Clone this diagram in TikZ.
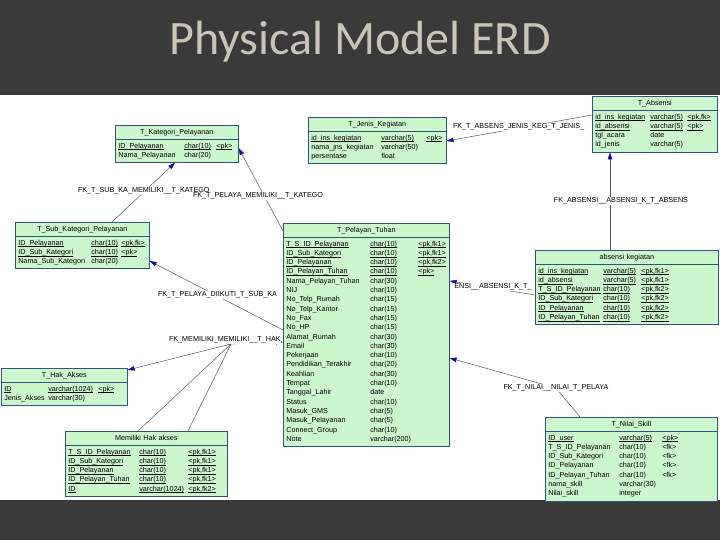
\documentclass[tikz,border=0pt]{standalone}
\usepackage{fontspec}
\setmainfont{Liberation Sans}
\newfontfamily\titlefont{Carlito}
\usepackage{array}
\usetikzlibrary{shapes.multipart,arrows.meta}
\pgfdeclarelayer{background}
\pgfsetlayers{background,main}
\definecolor{tabfill}{RGB}{204,247,204}
\definecolor{tabline}{RGB}{46,86,120}
\definecolor{fkline}{RGB}{80,88,110}
\definecolor{fkarrow}{RGB}{16,16,160}
\definecolor{band}{RGB}{58,58,58}
\definecolor{titlegray}{RGB}{200,196,184}
\setlength{\tabcolsep}{0pt}
\newcommand{\ukey}[1]{\underline{\smash{#1}}}

\begin{document}
\begin{tikzpicture}[x=1pt,y=-1pt,
  tab/.style={rectangle split, rectangle split parts=2, draw=tabline, fill=tabfill,
    line width=0.6pt, inner xsep=3pt, inner ysep=2pt, anchor=north west,
    align=center, font=\fontsize{7.2}{9.3}\selectfont},
  fk/.style={draw=fkline, line width=0.5pt,
    -{Triangle[length=7pt,width=4.5pt,color=fkarrow]}},
  fkname/.style={fill=white, inner sep=0.8pt, font=\fontsize{7.2}{8}\selectfont}]
\useasboundingbox (0,0) rectangle (720,540);

\node[font=\titlefont\fontsize{48}{50}\selectfont, text=titlegray, anchor=base] (T) at (360,55) {Physical Model ERD};

% tables
\node[tab, text width=117pt] (Kat) at (115,125) {\strut T\_Kategori\_Pelayanan
\nodepart{two}\begin{tabular}{@{}p{66pt}p{32pt}p{19pt}@{}}
\ukey{ID\_Pelayanan} & \ukey{char(10)} & \ukey{<pk>}\\
Nama\_Pelayanan & char(20) &
\end{tabular}};

\node[tab, text width=132pt] (Jen) at (308,117) {\strut T\_Jenis\_Kegiatan
\nodepart{two}\begin{tabular}{@{}p{70pt}p{45pt}p{17pt}@{}}
\ukey{id\_ins\_kegiatan} & \ukey{varchar(5)} & \ukey{<pk>}\\
nama\_jns\_kegiatan & varchar(50) & \\
persentase & float &
\end{tabular}};

\node[tab, text width=119pt] (Abs) at (592,96) {\strut T\_Absensi
\nodepart{two}\begin{tabular}{@{}p{55pt}p{37pt}p{27pt}@{}}
\ukey{id\_ins\_kegiatan} & \ukey{varchar(5)} & \ukey{<pk,fk>}\\
\ukey{id\_absensi} & \ukey{varchar(5)} & \ukey{<pk>}\\
tgl\_acara & date & \\
id\_jenis & varchar(5) &
\end{tabular}};

\node[tab, text width=128pt] (Sub) at (15,222) {\strut T\_Sub\_Kategori\_Pelayanan
\nodepart{two}\begin{tabular}{@{}p{73pt}p{30pt}p{25pt}@{}}
\ukey{ID\_Pelayanan} & \ukey{char(10)} & \ukey{<pk,fk>}\\
\ukey{ID\_Sub\_Kategori} & \ukey{char(10)} & \ukey{<pk>}\\
Nama\_Sub\_Kategori & char(20) &
\end{tabular}};

\node[tab, text width=160pt] (Pel) at (283,223) {\strut T\_Pelayan\_Tuhan
\nodepart{two}\begin{tabular}{@{}p{84pt}p{48pt}p{28pt}@{}}
\ukey{T\_S\_ID\_Pelayanan} & \ukey{char(10)} & \ukey{<pk,fk1>}\\
\ukey{ID\_Sub\_Kategori} & \ukey{char(10)} & \ukey{<pk,fk1>}\\
\ukey{ID\_Pelayanan} & \ukey{char(10)} & \ukey{<pk,fk2>}\\
\ukey{ID\_Pelayan\_Tuhan} & \ukey{char(10)} & \ukey{<pk>}\\
Nama\_Pelayan\_Tuhan & char(30) & \\
NIJ & char(10) & \\
No\_Telp\_Rumah & char(15) & \\
No\_Telp\_Kantor & char(15) & \\
No\_Fax & char(15) & \\
No\_HP & char(15) & \\
Alamat\_Rumah & char(30) & \\
Email & char(30) & \\
Pekerjaan & char(10) & \\
Pendidikan\_Terakhir & char(20) & \\
Keahlian & char(30) & \\
Tempat & char(10) & \\
Tanggal\_Lahir & date & \\
Status & char(10) & \\
Masuk\_GMS & char(5) & \\
Masuk\_Pelayanan & char(5) & \\
Connect\_Group & char(10) & \\
Note & varchar(200) &
\end{tabular}};

\node[tab, text width=177pt] (AbsK) at (535,250) {\strut absensi kegiatan
\nodepart{two}\begin{tabular}{@{}p{65pt}p{38pt}p{74pt}@{}}
\ukey{id\_ins\_kegiatan} & \ukey{varchar(5)} & \ukey{<pk,fk1>}\\
\ukey{id\_absensi} & \ukey{varchar(5)} & \ukey{<pk,fk1>}\\
\ukey{T\_S\_ID\_Pelayanan} & \ukey{char(10)} & \ukey{<pk,fk2>}\\
\ukey{ID\_Sub\_Kategori} & \ukey{char(10)} & \ukey{<pk,fk2>}\\
\ukey{ID\_Pelayanan} & \ukey{char(10)} & \ukey{<pk,fk2>}\\
\ukey{ID\_Pelayan\_Tuhan} & \ukey{char(10)} & \ukey{<pk,fk2>}
\end{tabular}};

\node[tab, text width=120pt] (Hak) at (1,368) {\strut T\_Hak\_Akses
\nodepart{two}\begin{tabular}{@{}p{44pt}p{50pt}p{26pt}@{}}
\ukey{ID} & \ukey{varchar(1024)} & \ukey{<pk>}\\
Jenis\_Akses & varchar(30) &
\end{tabular}};

\node[tab, text width=156pt] (Mem) at (65,431) {\strut Memiliki Hak akses
\nodepart{two}\begin{tabular}{@{}p{71pt}p{49pt}p{36pt}@{}}
\ukey{T\_S\_ID\_Pelayanan} & \ukey{char(10)} & \ukey{<pk,fk1>}\\
\ukey{ID\_Sub\_Kategori} & \ukey{char(10)} & \ukey{<pk,fk1>}\\
\ukey{ID\_Pelayanan} & \ukey{char(10)} & \ukey{<pk,fk1>}\\
\ukey{ID\_Pelayan\_Tuhan} & \ukey{char(10)} & \ukey{<pk,fk1>}\\
\ukey{ID} & \ukey{varchar(1024)} & \ukey{<pk,fk2>}
\end{tabular}};

\node[tab, text width=166pt] (Nil) at (545,417) {\strut T\_Nilai\_Skill
\nodepart{two}\begin{tabular}{@{}p{71pt}p{43pt}p{52pt}@{}}
\ukey{ID\_user} & \ukey{varchar(5)} & \ukey{<pk>}\\
T\_S\_ID\_Pelayanan & char(10) & <fk>\\
ID\_Sub\_Kategori & char(10) & <fk>\\
ID\_Pelayanan & char(10) & <fk>\\
ID\_Pelayan\_Tuhan & char(10) & <fk>\\
nama\_skill & varchar(30) & \\
Nilai\_skill & integer &
\end{tabular}};

\begin{pgfonlayer}{background}
\fill[band] (0,0) rectangle (720,95);
\fill[white] (0,95) rectangle (720,500);
\fill[band] (0,500) rectangle (720,540);

% references
\draw[fk] ([yshift=-19pt]Abs.north west) -- ([yshift=-24pt]Jen.north east);
\draw[fk] ([xshift=97pt]Sub.north west) -- ([xshift=60pt]Kat.south west);
\draw[fk] ([yshift=-8pt]Pel.north west) -- ([yshift=-23pt]Kat.north east);
\draw[fk] ([xshift=75pt]AbsK.north west) -- ([xshift=18pt]Abs.south west);
\draw[fk] ([yshift=-107pt]Pel.north west) -- ([yshift=-39pt]Sub.north east);
\draw[fk] ([yshift=-45pt]AbsK.north west) -- ([yshift=-58pt]Pel.north east);
\coordinate (MemK) at (231,344);
\draw[fk] ([xshift=73pt]Mem.north west) -- (MemK) -- ([yshift=-2pt]Hak.north east);
\draw[fk] ([xshift=123pt]Mem.north west) -- (MemK) -- ([yshift=-119pt]Pel.north west);
\coordinate (NilK) at (556,388);
\draw[fk] ([xshift=35pt]Nil.north west) -- (NilK) -- ([yshift=-135pt]Pel.north east);

\node[fkname, anchor=west] (lJen) at (452,127) {FK\_T\_ABSENS\_JENIS\_KEG\_T\_JENIS\_};
\node[fkname, anchor=west] (lSub) at (77,191) {FK\_T\_SUB\_KA\_MEMILIKI\_\_T\_KATEGO};
\node[fkname, anchor=west] (lKat) at (192,196) {FK\_T\_PELAYA\_MEMILIKI\_\_T\_KATEGO};
\node[fkname] (lAbs) at (621,201) {FK\_ABSENSI\_\_ABSENSI\_K\_T\_ABSENS};
\node[fkname, anchor=west] (lDii) at (157,295) {FK\_T\_PELAYA\_DIIKUTI\_T\_SUB\_KA};
\node[fkname] (lAbsK) at (493,287) {ENSI\_\_ABSENSI\_K\_T\_};
\node[fkname, anchor=west] (lHak) at (168,340) {FK\_MEMILIKI\_MEMILIKI\_\_T\_HAK};
\node[fkname] (lNil) at (556,388) {FK\_T\_NILAI\_\_NILAI\_T\_PELAYA};
\end{pgfonlayer}
\end{tikzpicture}
\end{document}
